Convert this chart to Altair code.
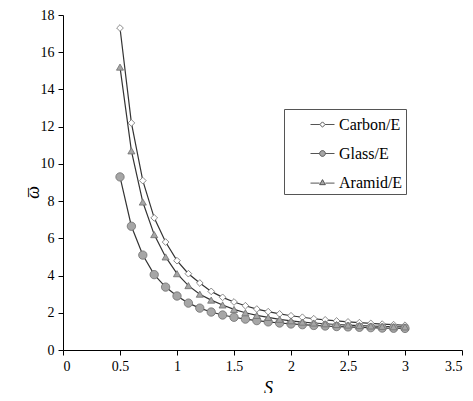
import altair as alt
import pandas as pd

S = [0.5, 0.6, 0.7, 0.8, 0.9, 1.0, 1.1, 1.2, 1.3, 1.4, 1.5, 1.6, 1.7, 1.8, 1.9,
     2.0, 2.1, 2.2, 2.3, 2.4, 2.5, 2.6, 2.7, 2.8, 2.9, 3.0]
carbon = [17.3, 12.2, 9.1, 7.1, 5.8, 4.8, 4.1, 3.6, 3.15, 2.83, 2.58, 2.38, 2.2, 2.06,
          1.94, 1.84, 1.76, 1.68, 1.62, 1.56, 1.51, 1.47, 1.43, 1.39, 1.36, 1.33]
glass = [9.3, 6.65, 5.1, 4.05, 3.38, 2.9, 2.52, 2.25, 2.04, 1.88, 1.76, 1.66, 1.58, 1.51,
         1.45, 1.4, 1.36, 1.32, 1.29, 1.26, 1.24, 1.22, 1.2, 1.18, 1.17, 1.16]
aramid = [15.2, 10.7, 7.95, 6.2, 5.0, 4.1, 3.46, 3.0, 2.68, 2.42, 2.18, 2.0, 1.86, 1.75,
          1.65, 1.57, 1.5, 1.45, 1.41, 1.37, 1.34, 1.31, 1.29, 1.27, 1.25, 1.24]
series = ["Carbon/E", "Glass/E", "Aramid/E"]
fills = ["#ffffff", "#a6a6a6", "#a6a6a6"]
shapes = ["diamond", "circle", "triangle-up"]
sizes = [45, 70, 50]
x_ticks = [0, 0.5, 1, 1.5, 2, 2.5, 3, 3.5]
y_ticks = [0, 2, 4, 6, 8, 10, 12, 14, 16, 18]

rows = []
for name, vals in zip(series, [carbon, glass, aramid]):
    for s, v in zip(S, vals):
        rows.append({"S": s, "w": v, "series": name})
df = pd.DataFrame(rows)

legend_paths = [
    "M-1,0H-0.22M0.22,0H1M0,-0.22L0.22,0L0,0.22L-0.22,0Z",
    "M-1,0H-0.24M0.24,0H1M-0.24,0A0.24,0.24,0,1,0,0.24,0A0.24,0.24,0,1,0,-0.24,0Z",
    "M-1,0.05H-0.24M0.24,0.05H1M0,-0.24L0.24,0.18L-0.24,0.18Z",
]

font = "Liberation Serif"
xenc = alt.X("S:Q", scale=alt.Scale(domain=[0, 3.5], nice=False),
             axis=alt.Axis(values=x_ticks, format="~g", title="S", titleFontStyle="italic",
                           titleFontWeight="normal", titleFontSize=18, titlePadding=6,
                           titleX=205))
yenc = alt.Y("w:Q", scale=alt.Scale(domain=[0, 18], nice=False),
             axis=alt.Axis(values=y_ticks, title=["_", "ω"], titleFontStyle="italic",
                           titleFontWeight="normal", titleFontSize=18, titleLineHeight=12,
                           titleX=-33, titleY=177, labelOverlap=False))

base = alt.Chart(df)
layers = [base.mark_line(color="#333333", strokeWidth=1.2).encode(x=xenc, y=yenc, detail="series:N")]
for name, sh, fc, sz in zip(series, shapes, fills, sizes):
    layers.append(
        base.transform_filter(alt.datum.series == name)
        .mark_point(shape=sh, filled=True, fill=fc, stroke="#6e6e6e", strokeWidth=0.8,
                    opacity=1, size=sz)
        .encode(x=xenc, y=yenc)
    )

leg = alt.Legend(title=None, orient="none", legendX=221, legendY=94,
                 symbolOpacity=1, symbolStrokeWidth=1, symbolStrokeColor="#555555",
                 labelExpr="datum.label + '\u2003'")
legend_layer = base.mark_point(filled=True, strokeWidth=1, opacity=0).encode(
    x=xenc, y=yenc,
    shape=alt.Shape("series:N", scale=alt.Scale(domain=series, range=legend_paths), legend=leg),
    fill=alt.Fill("series:N", scale=alt.Scale(domain=series, range=fills), legend=leg),
    stroke=alt.Stroke("series:N", scale=alt.Scale(domain=series, range=["#555555"] * 3), legend=leg),
)
layers.append(legend_layer)

chart = alt.layer(*layers).properties(
    width=399, height=335, autosize="none",
    padding={"left": 55, "top": 7, "right": 2, "bottom": 43},
).configure(font=font).configure_view(stroke=None).configure_axis(
    grid=False, domainColor="#000000", tickColor="#000000", domainWidth=1,
    tickSize=5, labelColor="#000000", titleColor="#000000", labelPadding=4,
    labelFont=font, titleFont=font, labelFontSize=14,
).configure_legend(
    strokeColor="#555555", strokeWidth=1, padding=3, fillColor="#ffffff",
    symbolSize=576, labelFont=font, labelFontSize=16, labelColor="#000000",
    rowPadding=8, labelOffset=4, symbolOffset=23, offset=0,
)

chart.save("out.html", embed_options={"renderer": "svg", "actions": False})
